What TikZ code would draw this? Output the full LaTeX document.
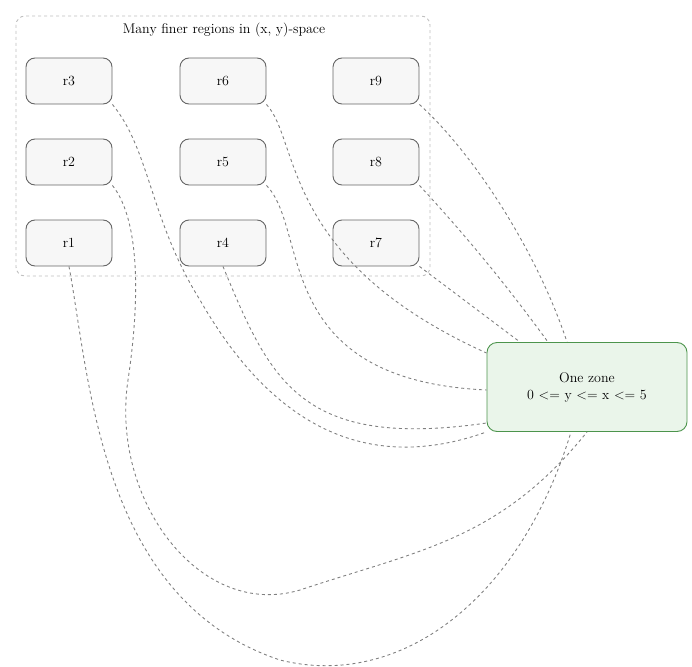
\documentclass[tikz,border=0pt]{standalone}
\begin{document}
\begin{tikzpicture}[x=1pt,y=-1pt,
  rn/.style={draw=black!60,line width=0.9pt,fill=black!3,rounded corners=9pt,minimum width=86pt,minimum height=46pt,font=\fontsize{14}{17}\selectfont},
  ed/.style={draw=black!50,dashed,line width=0.9pt}]
\useasboundingbox (0,0) rectangle (692,666);
\draw[black!25,dashed,line width=0.9pt,rounded corners=9pt] (16,16) rectangle (430,276);
\node[font=\fontsize{14}{17}\selectfont] (t) at (224,30) {Many finer regions in (x, y)-space};
\node[rn] (r3) at (69,81) {r3};
\node[rn] (r2) at (69,162) {r2};
\node[rn] (r1) at (69,243) {r1};
\node[rn] (r6) at (223,81) {r6};
\node[rn] (r5) at (223,162) {r5};
\node[rn] (r4) at (223,243) {r4};
\node[rn] (r9) at (376,81) {r9};
\node[rn] (r8) at (376,162) {r8};
\node[rn] (r7) at (376,243) {r7};
\node[draw=green!40!black!70,line width=0.9pt,fill=green!50!black!10,fill opacity=0.8,text opacity=1,rounded corners=10pt,minimum width=200pt,minimum height=89pt,align=center,font=\fontsize{14}{17}\selectfont] (z) at (587,387) {One zone\\0 <= y <= x <= 5};
\draw[ed] (r3.south east) .. controls (150,150) and (150,220) .. (200,300) .. controls (280,440) and (380,470) .. (z.south west);
\draw[ed] (r2.south east) .. controls (140,220) and (140,300) .. (128,380) .. controls (110,500) and (200,620) .. (300,590) .. controls (420,550) and (500,540) .. (z.south);
\draw[ed] (r1.south) .. controls (90,380) and (100,600) .. (280,660) .. controls (400,690) and (520,600) .. ([xshift=-16pt]z.south);
\draw[ed] (r4.south) .. controls (270,380) and (300,450) .. (z.west|-0,423);
\draw[ed] (r5.south east) .. controls (310,230) and (270,380) .. (z.west|-0,390);
\draw[ed] (r6.south east) .. controls (300,140) and (280,260) .. (z.west|-0,353);
\draw[ed] (r7.south east) -- ([xshift=-67pt]z.north);
\draw[ed] (r8.south east) .. controls (470,240) and (510,290) .. ([xshift=-39pt]z.north);
\draw[ed] (r9.south east) .. controls (480,160) and (540,260) .. ([xshift=-20pt]z.north);
\end{tikzpicture}
\end{document}
